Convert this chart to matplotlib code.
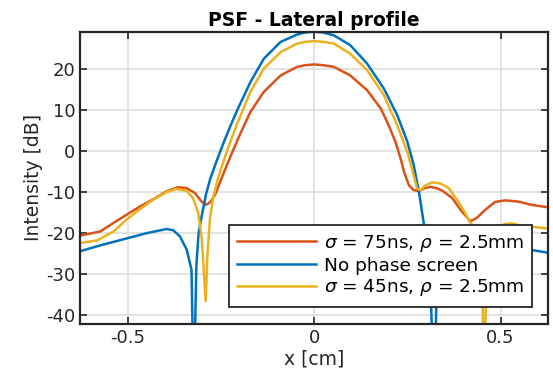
import numpy as np
import matplotlib.pyplot as plt

# x positions [cm] and intensity [dB]
x_red = [-0.627, -0.574, -0.538, -0.503, -0.467, -0.431, -0.396, -0.365, -0.342, -0.32, -0.302,
         -0.29, -0.278, -0.265, -0.25, -0.235, -0.22, -0.198, -0.171, -0.135, -0.09, -0.046,
         -0.025, 0.0, 0.025, 0.053, 0.097, 0.142, 0.179, 0.2, 0.218, 0.232, 0.241, 0.254,
         0.267, 0.281, 0.294, 0.312, 0.33, 0.343, 0.37, 0.396, 0.419, 0.436, 0.459, 0.485,
         0.512, 0.548, 0.583, 0.628]
y_red = [-20.6, -19.6, -17.5, -15.5, -13.5, -11.7, -9.8, -8.8, -9.0, -10.2, -12.3,
         -13.1, -12.4, -10.5, -7.0, -3.6, -0.3, 4.3, 9.6, 14.5, 18.5, 20.6,
         21.0, 21.2, 21.0, 20.6, 18.5, 14.9, 10.4, 6.3, 2.3, -1.8, -5.0, -8.3,
         -9.5, -9.7, -9.1, -8.7, -9.1, -9.6, -11.4, -14.7, -17.1, -16.3, -14.3, -12.4,
         -12.0, -12.3, -13.1, -13.7]

x_blue = [-0.627, -0.574, -0.503, -0.449, -0.396, -0.378, -0.36, -0.342, -0.329, -0.323,
          -0.316, -0.31, -0.302, -0.29, -0.278, -0.262, -0.242, -0.225, -0.207, -0.171,
          -0.135, -0.09, -0.046, -0.025, 0.0, 0.025, 0.053, 0.097, 0.142, 0.187, 0.223,
          0.25, 0.267, 0.281, 0.295, 0.31, 0.322, 0.33, 0.345, 0.37, 0.4, 0.45, 0.521,
          0.575, 0.628]
y_blue = [-24.4, -23.0, -21.3, -20.0, -19.0, -19.3, -20.8, -24.0, -28.9, -60.0,
          -28.0, -20.0, -16.0, -10.5, -6.5, -2.5, 2.3, 6.1, 9.9, 16.9,
          22.6, 26.7, 28.5, 29.0, 29.2, 29.0, 28.3, 25.9, 21.4, 15.3, 8.8,
          2.3, -3.4, -9.9, -18.3, -28.0, -60.0, -28.0, -22.5, -20.2, -19.6, -21.0, -23.2,
          -24.0, -24.8]

x_yel = [-0.627, -0.583, -0.538, -0.503, -0.467, -0.431, -0.396, -0.369, -0.342, -0.325,
         -0.311, -0.302, -0.291, -0.286, -0.279, -0.27, -0.258, -0.245, -0.233, -0.207,
         -0.171, -0.135, -0.09, -0.046, -0.025, 0.0, 0.025, 0.053, 0.097, 0.142, 0.187,
         0.223, 0.25, 0.267, 0.276, 0.285, 0.299, 0.317, 0.339, 0.361, 0.383, 0.405, 0.416,
         0.428, 0.44, 0.45, 0.456, 0.462, 0.475, 0.49, 0.51, 0.53, 0.561, 0.6, 0.628]
y_yel = [-22.4, -21.8, -19.6, -16.7, -14.1, -11.8, -10.0, -9.2, -9.7, -11.4,
         -15.1, -20.8, -36.6, -24.8, -16.0, -11.0, -6.7, -3.0, 0.3, 6.6,
         14.5, 20.2, 24.2, 26.3, 26.7, 26.9, 26.7, 26.3, 23.8, 19.8, 13.7,
         6.3, -0.2, -5.9, -9.1, -9.5, -8.3, -7.6, -7.9, -9.0, -11.8, -15.1, -17.1,
         -18.5, -22.0, -30.0, -55.0, -32.0, -22.0, -19.0, -17.8, -17.6, -18.3, -18.6, -18.9]

labels = [r'$\sigma$ = 75ns, $\rho$ = 2.5mm', 'No phase screen', r'$\sigma$ = 45ns, $\rho$ = 2.5mm']
colors = ['#D95319', '#0072BD', '#EDB120']

plt.rcParams['font.family'] = 'DejaVu Sans'
plt.rcParams['mathtext.fontset'] = 'dejavusans'

fig = plt.figure(figsize=(5.53, 3.79), dpi=100)
ax = fig.add_axes([0.1447, 0.1451, 0.8468, 0.7713])

ax.plot(x_red, y_red, color=colors[0], lw=1.8, label=labels[0])
ax.plot(x_blue, y_blue, color=colors[1], lw=1.8, label=labels[1])
ax.plot(x_yel, y_yel, color=colors[2], lw=1.8, label=labels[2])

ax.set_xlim(-0.628, 0.628)
ax.set_ylim(-42.2, 29.2)
ax.set_xticks([-0.5, 0, 0.5])
ax.set_xticklabels(['-0.5', '0', '0.5'])
ax.set_yticks([-40, -30, -20, -10, 0, 10, 20])
ax.set_yticklabels(['-40', '-30', '-20', '-10', '0', '10', '20'])
ax.grid(True, color='#dedede', lw=1.2)
ax.set_axisbelow(True)
ax.tick_params(direction='in', top=True, right=True, length=5, width=1.2,
               colors='#262626', labelsize=13)
for s in ax.spines.values():
    s.set_linewidth(1.6)
    s.set_color('#262626')

ax.set_xlabel('x [cm]', fontsize=13.5, color='#262626', labelpad=2)
ax.set_ylabel('Intensity [dB]', fontsize=13.5, color='#262626', labelpad=2)
ax.set_title('PSF - Lateral profile', fontsize=13.5, fontweight='bold', pad=4)

leg = ax.legend(loc='lower right', bbox_to_anchor=(0.9645, 0.059), borderaxespad=0,
                fontsize=13.3, fancybox=False, framealpha=1, edgecolor='#262626',
                handlelength=4.3, labelspacing=0.15, borderpad=0.45, handletextpad=0.4)
leg.get_frame().set_linewidth(1.3)

fig.savefig('out.png', dpi=100)
